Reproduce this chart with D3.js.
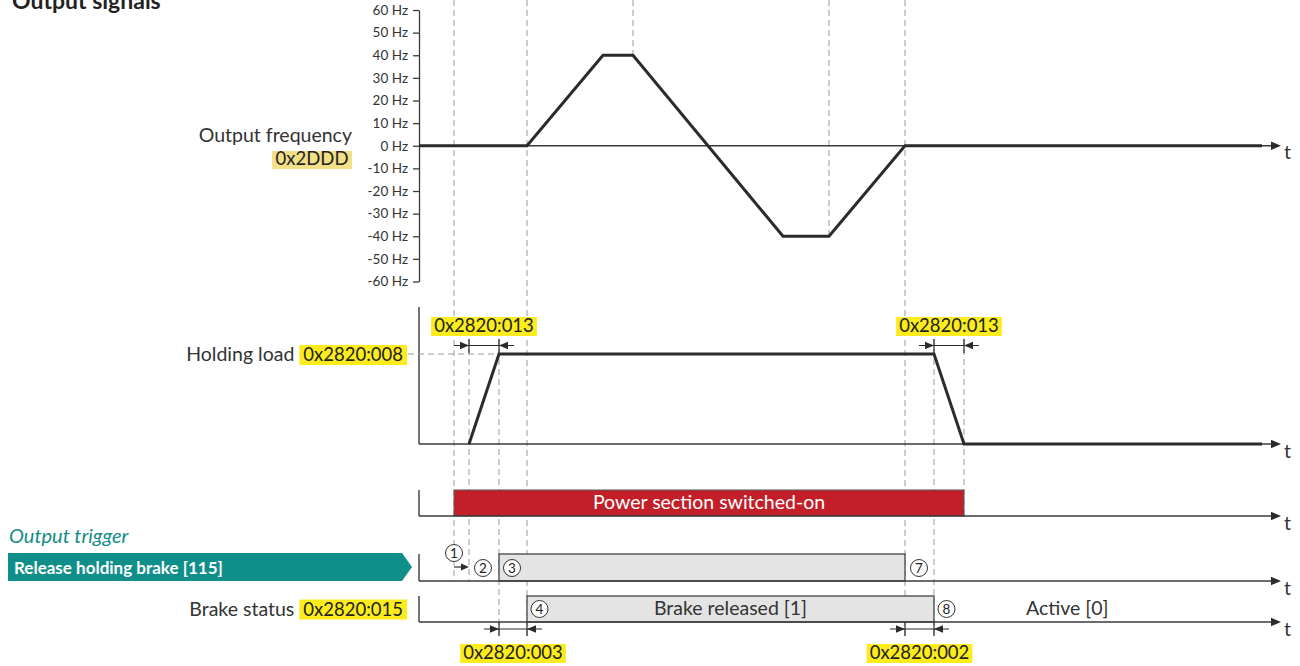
<!DOCTYPE html>
<html>
<head>
<meta charset="utf-8">
<script src="https://cdn.jsdelivr.net/npm/d3@7"></script>
<style>
  html, body { margin: 0; padding: 0; background: #fff; }
  svg { display: block; font-family: Lato, "Open Sans", "Noto Sans", sans-serif; }
</style>
</head>
<body>
<svg id="chart" width="1300" height="666"></svg>
<script>
// ---- timing diagram data (time in ms, schematic) ----
const timeExtent = [0, 862];
const freqTicks = [60, 50, 40, 30, 20, 10, 0, -10, -20, -30, -40, -50, -60];
const freqTimes = [0, 108, 184, 214, 364, 410, 486, 843];
const freqValues = [0, 0, 40, 40, -40, -40, 0, 0];
const loadTimes = [50, 80, 515, 545, 843];
const loadValues = [0, 100, 100, 0, 0];
const powerOnSpan = [35, 545];
const releaseSpan = [80, 486];
const brakeReleasedSpan = [108, 515];
const holdingRamp = [[50, 80], [515, 545]];
const openDelay = [80, 108];
const closeDelay = [486, 515];
const markerTimes = [35, 50, 80, 108, 214, 410, 486, 515, 545];
const stepNumbers = ["1", "2", "3", "4", "7", "8"];

const svg = d3.select("#chart");
const ink = "#2b2b2b", axisInk = "#3a3a3a", textInk = "#333";
const hiYellow = "#fcec1c", paleYellow = "#f2df86";
const FS = 19.5;      // row labels
const CFS = 18.5;     // parameter codes

const x = d3.scaleLinear().domain(timeExtent).range([419, 1281]);
const yF = d3.scaleLinear().domain([-60, 60]).range([281.5, 10]);
const yL = d3.scaleLinear().domain([0, 100]).range([444, 354]);

const rows = {
  power:   { top: 490, base: 516 },
  release: { top: 554, base: 581 },
  brake:   { top: 596, base: 622 }
};

// ---- dashed event guides ----
const guideSpans = {
  35:  [0, 581], 50: [339, 581], 80: [339, 636], 108: [0, 636],
  214: [0, yF(40)], 410: [0, yF(-40)], 486: [0, 636], 515: [339, 636], 545: [339, 516]
};
const gGuides = svg.append("g");
markerTimes.forEach(t => {
  const s = guideSpans[t];
  gGuides.append("line")
    .attr("x1", x(t)).attr("x2", x(t)).attr("y1", s[0]).attr("y2", s[1])
    .attr("stroke", "#9a9a9a").attr("stroke-width", 1).attr("stroke-dasharray", "6,4");
});

// ---- arrowhead helper ----
function head(g, xt, y, dir, len = 9, hw = 3.8) {
  g.append("path")
    .attr("d", `M${xt},${y} L${xt - dir * len},${y - hw} L${xt - dir * len},${y + hw} Z`)
    .attr("fill", ink);
}
function timeAxis(g, y) {
  g.append("line").attr("x1", x(0)).attr("x2", x(timeExtent[1]) - 6)
    .attr("y1", y).attr("y2", y).attr("stroke", axisInk).attr("stroke-width", 1.4);
  head(g, x(timeExtent[1]), y, 1, 10, 4.2);
  g.append("text").attr("x", x(timeExtent[1]) + 3).attr("y", y + 13.5)
    .attr("font-size", FS).attr("fill", textInk).text("t");
}

// ---- title ----
svg.append("text").attr("x", 12).attr("y", 9).attr("font-size", 23)
  .attr("font-weight", 700).attr("fill", "#222").text("Output signals");

// ---- output frequency panel ----
const gF = svg.append("g");
const fAxis = d3.axisLeft(yF).tickValues(freqTicks).tickFormat(d => d + " Hz")
  .tickSize(6).tickSizeOuter(0).tickPadding(5);
gF.append("g").attr("transform", `translate(${x(0)},0)`).call(fAxis)
  .call(g => g.selectAll("text").attr("font-size", 13.5).attr("fill", textInk).attr("font-family", "Lato"))
  .call(g => g.selectAll("line, path").attr("stroke", axisInk).attr("stroke-width", 1.3));
timeAxis(gF, yF(0));
const freqLine = d3.line().x(d => x(d[0])).y(d => yF(d[1]));
gF.append("path").datum(freqTimes.map((t, i) => [t, freqValues[i]]))
  .attr("d", freqLine).attr("fill", "none").attr("stroke", ink)
  .attr("stroke-width", 3).attr("stroke-linejoin", "miter");

// label with highlighted parameter code
function codeBox(g, xRight, yBase, code, color, padX = 3, h = 19) {
  const t = g.append("text").attr("x", xRight - padX).attr("y", yBase)
    .attr("text-anchor", "end").attr("font-size", CFS).attr("fill", "#222").text(code);
  const bb = t.node().getBBox();
  g.insert("rect", "text").attr("x", bb.x - padX).attr("y", yBase - h + 4)
    .attr("width", bb.width + 2 * padX).attr("height", h).attr("fill", color);
  return bb.x - padX;
}
function codeBoxCentered(g, xc, yBase, code) {
  const t = g.append("text").attr("x", xc).attr("y", yBase)
    .attr("text-anchor", "middle").attr("font-size", CFS).attr("fill", "#222").text(code);
  const bb = t.node().getBBox();
  g.insert("rect", "text").attr("x", bb.x - 3).attr("y", yBase - 15)
    .attr("width", bb.width + 6).attr("height", 19).attr("fill", hiYellow);
}

const gLab = svg.append("g");
gLab.append("text").attr("x", 352).attr("y", 141.5).attr("text-anchor", "end")
  .attr("font-size", FS).attr("fill", textInk).text("Output frequency");
codeBox(gLab.append("g"), 352, 165, "0x2DDD", paleYellow, 3.5, 18);

// ---- holding load panel ----
const gL = svg.append("g");
gL.append("line").attr("x1", x(0)).attr("x2", x(0)).attr("y1", 307).attr("y2", yL(0))
  .attr("stroke", axisInk).attr("stroke-width", 1.4);
timeAxis(gL, yL(0));
gL.append("line").attr("x1", 408).attr("x2", x(holdingRamp[0][1])).attr("y1", yL(100)).attr("y2", yL(100))
  .attr("stroke", "#9a9a9a").attr("stroke-width", 1).attr("stroke-dasharray", "6,4");
gL.append("path").datum(loadTimes.map((t, i) => [t, loadValues[i]]))
  .attr("d", d3.line().x(d => x(d[0])).y(d => yL(d[1])))
  .attr("fill", "none").attr("stroke", ink).attr("stroke-width", 3);

const hl = gLab.append("g");
const hlLeft = codeBox(hl, 407, 361, "0x2820:008", hiYellow, 4, 20);
gLab.append("text").attr("x", hlLeft - 5).attr("y", 361).attr("text-anchor", "end")
  .attr("font-size", FS).attr("fill", textInk).text("Holding load");

// dimension arrows between two times
function dim(g, t1, t2, y, extTop, extBot) {
  const x1 = x(t1), x2 = x(t2);
  [x1, x2].forEach(xx => g.append("line").attr("x1", xx).attr("x2", xx)
    .attr("y1", extTop).attr("y2", extBot).attr("stroke", ink).attr("stroke-width", 1.2));
  g.append("line").attr("x1", x1 - 15).attr("x2", x2 + 15).attr("y1", y).attr("y2", y)
    .attr("stroke", ink).attr("stroke-width", 1.2);
  head(g, x1, y, 1);
  head(g, x2, y, -1);
}
const gDim = svg.append("g");
holdingRamp.forEach(r => {
  dim(gDim, r[0], r[1], 345.5, 339, 353);
  codeBoxCentered(gDim, (x(r[0]) + x(r[1])) / 2, 332, "0x2820:013");
});
dim(gDim, openDelay[0], openDelay[1], 629, 622, 636);
codeBoxCentered(gDim, (x(openDelay[0]) + x(openDelay[1])) / 2, 659, "0x2820:003");
dim(gDim, closeDelay[0], closeDelay[1], 629, 622, 636);
codeBoxCentered(gDim, (x(closeDelay[0]) + x(closeDelay[1])) / 2, 659, "0x2820:002");

// ---- power section row ----
const gP = svg.append("g");
gP.append("line").attr("x1", x(0)).attr("x2", x(0)).attr("y1", rows.power.top).attr("y2", rows.power.base)
  .attr("stroke", axisInk).attr("stroke-width", 1.4);
gP.append("rect").attr("x", x(powerOnSpan[0])).attr("y", rows.power.top)
  .attr("width", x(powerOnSpan[1]) - x(powerOnSpan[0])).attr("height", rows.power.base - rows.power.top)
  .attr("fill", "#c21f29").attr("stroke", "#5a5a5a").attr("stroke-width", 1);
timeAxis(gP, rows.power.base);
gP.append("text").attr("x", (x(powerOnSpan[0]) + x(powerOnSpan[1])) / 2).attr("y", rows.power.base - 7)
  .attr("text-anchor", "middle").attr("font-size", FS).attr("fill", "#fff").text("Power section switched-on");

// ---- output trigger: release holding brake ----
const gR = svg.append("g");
gR.append("text").attr("x", 9).attr("y", 543).attr("font-size", 20).attr("font-style", "italic")
  .attr("fill", "#128d88").text("Output trigger");
gR.append("path").attr("d", "M8,553 L402,553 L412,567 L402,581 L8,581 Z").attr("fill", "#108e89");
gR.append("text").attr("x", 14).attr("y", 573.5).attr("font-size", 17).attr("font-weight", 700)
  .attr("fill", "#fff").text("Release holding brake [115]");

function stateRow(g, row, span, label) {
  g.append("line").attr("x1", x(0)).attr("x2", x(0)).attr("y1", row.top).attr("y2", row.base)
    .attr("stroke", axisInk).attr("stroke-width", 1.4);
  g.append("rect").attr("x", x(span[0])).attr("y", row.top)
    .attr("width", x(span[1]) - x(span[0])).attr("height", row.base - row.top)
    .attr("fill", "#e4e4e4").attr("stroke", "#444").attr("stroke-width", 1.3);
  timeAxis(g, row.base);
  if (label) g.append("text").attr("x", (x(span[0]) + x(span[1])) / 2).attr("y", row.base - 7)
    .attr("text-anchor", "middle").attr("font-size", FS).attr("fill", textInk).text(label);
}
stateRow(gR, rows.release, releaseSpan, null);

// ---- brake status row ----
const gB = svg.append("g");
stateRow(gB, rows.brake, brakeReleasedSpan, "Brake released [1]");
gB.append("text").attr("x", 1026).attr("y", rows.brake.base - 7)
  .attr("font-size", FS).attr("fill", textInk).text("Active [0]");
const bs = gLab.append("g");
const bsLeft = codeBox(bs, 407, 615.5, "0x2820:015", hiYellow, 4, 20);
gLab.append("text").attr("x", bsLeft - 5).attr("y", 615.5).attr("text-anchor", "end")
  .attr("font-size", FS).attr("fill", textInk).text("Brake status");

// ---- step markers ----
const gS = svg.append("g");
// short arrow from power-on to start of load ramp
gS.append("line").attr("x1", x(35)).attr("x2", x(50) - 4).attr("y1", 567).attr("y2", 567)
  .attr("stroke", ink).attr("stroke-width", 1.2);
head(gS, x(50), 567, 1, 8, 3.5);
const stepPos = [[x(35), 553], [483, 568], [512, 568], [539.5, 609], [919, 568], [946.5, 609]];
stepPos.forEach((p, i) => {
  gS.append("circle").attr("cx", p[0]).attr("cy", p[1]).attr("r", 8.5)
    .attr("fill", "#fff").attr("stroke", "#333").attr("stroke-width", 1);
  gS.append("text").attr("x", p[0]).attr("y", p[1] + 5).attr("text-anchor", "middle")
    .attr("font-size", 13.5).attr("fill", "#222").text(stepNumbers[i]);
});
</script>
</body>
</html>
